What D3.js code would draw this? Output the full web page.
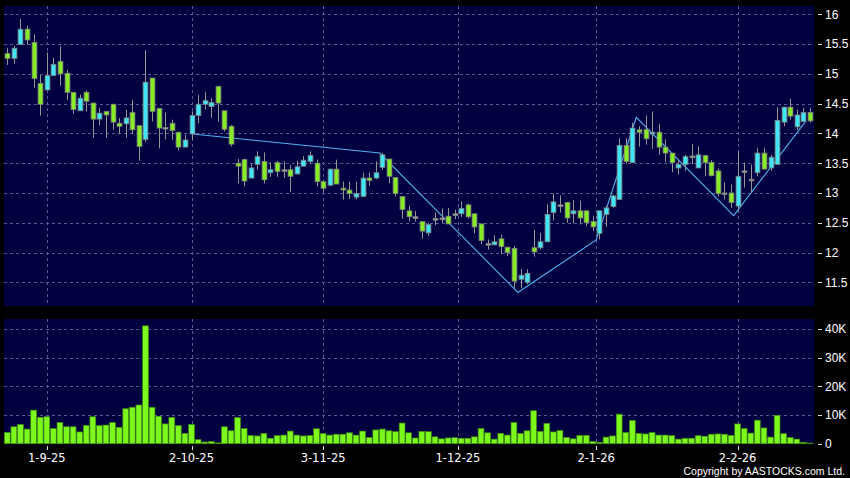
<!DOCTYPE html>
<html>
<head>
<meta charset="utf-8">
<script src="https://cdn.jsdelivr.net/npm/d3@7"></script>
<style>
  html, body { margin: 0; padding: 0; background: #000; }
  svg { display: block; }
</style>
</head>
<body>
<div id="chart"></div>
<script>
// daily candles, oldest first
const opens = [15.34,15.26,15.49,15.75,15.53,14.84,14.73,14.97,15.21,15.01,14.69,14.38,14.69,14.51,14.24,14.37,14.49,14.17,14.16,14.35,
  14.13,13.90,14.93,14.42,14.10,14.17,14.02,13.77,13.99,14.30,14.49,14.45,14.79,14.38,14.12,13.50,13.56,13.25,13.48,13.53,
  13.34,13.51,13.39,13.39,13.32,13.45,13.53,13.50,13.19,13.13,13.40,13.08,13.05,12.93,12.94,13.25,13.25,13.43,13.57,13.26,
  12.94,12.70,12.60,12.52,12.33,12.57,12.58,12.61,12.65,12.65,12.80,12.65,12.48,12.15,12.13,12.23,12.09,12.07,11.55,11.50,
  12.08,12.08,12.18,12.67,12.80,12.84,12.65,12.70,12.70,12.52,12.32,12.64,12.77,12.89,13.80,13.51,14.06,14.07,13.99,14.02,
  13.77,13.67,13.42,13.48,13.62,13.42,13.63,13.51,13.37,13.00,13.00,12.78,13.37,13.23,13.34,13.67,13.42,13.48,14.19,14.44,
  14.11,14.20,14.35];
const highs = [15.43,15.47,15.92,15.81,15.66,14.98,15.36,15.27,15.46,15.07,14.69,14.65,14.72,14.51,14.43,14.37,14.49,14.26,14.40,14.56,
  14.13,15.40,14.93,14.42,14.35,14.23,14.02,13.98,14.37,14.65,14.70,14.59,14.79,14.38,14.14,13.57,13.58,13.50,13.70,13.68,
  13.51,13.54,13.53,13.47,13.54,13.62,13.70,13.56,13.22,13.41,13.56,13.19,13.19,13.19,13.34,13.34,13.53,13.67,13.57,13.26,
  12.94,12.79,12.70,12.52,12.50,12.67,12.74,12.75,12.72,12.86,12.82,12.65,12.48,12.22,12.29,12.30,12.09,12.11,11.72,11.72,
  12.38,12.33,12.81,12.99,12.96,12.84,12.88,12.87,12.70,12.61,12.70,12.79,12.97,13.92,13.92,14.18,14.12,14.30,14.37,14.16,
  13.90,13.67,13.56,13.64,13.82,13.78,13.63,13.55,13.41,13.18,13.14,13.70,13.51,13.48,13.76,13.76,13.64,14.44,14.45,14.58,
  14.40,14.43,14.43];
const lows = [15.15,15.17,15.49,15.49,14.77,14.30,14.73,14.97,14.80,14.56,14.33,14.38,14.37,13.93,14.14,13.93,14.06,13.99,13.93,13.99,
  13.54,13.86,14.20,13.75,13.90,13.89,13.72,13.77,13.89,14.17,14.40,14.26,14.20,14.03,13.78,13.16,13.11,13.25,13.39,13.16,
  13.27,13.27,13.25,13.02,13.31,13.45,13.49,13.11,13.02,13.12,13.15,12.89,12.90,12.89,12.94,13.12,13.23,13.39,13.16,12.94,
  12.57,12.53,12.52,12.23,12.28,12.46,12.50,12.48,12.56,12.60,12.57,12.32,12.14,12.05,12.12,11.97,11.94,11.40,11.40,11.47,
  11.93,12.05,12.18,12.54,12.67,12.50,12.49,12.47,12.44,12.36,12.22,12.43,12.75,12.89,13.49,13.51,13.78,13.81,13.74,13.64,
  13.52,13.35,13.31,13.37,13.48,13.42,13.28,13.28,12.94,12.89,12.75,12.70,13.09,13.00,13.28,13.40,13.37,13.48,14.12,14.23,
  14.06,14.20,14.18];
const closes = [15.26,15.43,15.75,15.57,14.92,14.49,14.97,15.16,15.00,14.69,14.40,14.59,14.54,14.24,14.34,14.31,14.19,14.12,14.26,14.06,
  13.78,14.86,14.37,14.09,14.10,14.05,13.77,13.89,14.30,14.49,14.55,14.52,14.51,14.07,13.82,13.45,13.20,13.42,13.61,13.22,
  13.39,13.36,13.39,13.28,13.44,13.55,13.63,13.19,13.08,13.40,13.15,13.05,12.99,12.99,13.25,13.21,13.34,13.64,13.28,12.99,
  12.72,12.60,12.60,12.36,12.47,12.57,12.58,12.48,12.65,12.74,12.60,12.43,12.20,12.15,12.18,12.10,12.00,11.52,11.62,11.65,
  12.01,12.18,12.64,12.85,12.80,12.58,12.70,12.58,12.50,12.43,12.70,12.75,12.95,13.80,13.53,14.09,14.02,13.91,14.02,13.77,
  13.67,13.51,13.48,13.61,13.62,13.64,13.51,13.29,12.99,13.00,12.84,13.28,13.37,13.23,13.67,13.40,13.60,14.22,14.44,14.29,
  14.31,14.35,14.21];
// volume in thousands of shares
const volumes = [3.9,5.9,6.7,5.1,11.7,9.2,9.4,5.3,7.4,5.9,5.9,4.1,6.4,9.4,6.3,6.5,7.4,5.7,12.2,12.7,
  13.5,41.1,12.7,9.6,6.9,9.2,6.3,3.6,6.7,1.4,0.6,0.8,0.3,5.9,4.5,9.1,5.3,2.9,2.7,3.6,
  1.9,2.8,3.0,4.4,3.0,2.7,2.9,5.2,3.6,3.0,3.3,3.3,3.8,3.0,4.4,2.2,4.8,5.1,4.5,4.2,
  7.2,3.8,2.0,4.3,4.2,2.4,1.7,2.0,2.1,1.9,1.9,2.4,5.3,3.8,1.6,3.6,3.0,7.4,3.6,4.5,
  11.5,4.3,7.1,4.1,4.6,2.2,1.7,2.9,2.9,0.8,0.5,2.3,2.7,10.3,3.9,8.1,3.6,3.4,3.9,3.0,
  3.0,2.8,1.6,1.9,1.9,2.8,2.6,3.3,3.4,3.3,2.9,6.9,5.3,3.7,8.2,5.5,2.3,9.9,3.5,2.2,
  1.6,0.5,0.2];

// date axis: label and the bar it sits on
const tickLabels = ["1-9-25", "2-10-25", "3-11-25", "1-12-25", "2-1-26", "2-2-26"];
const tickBars = [6, 28, 48, 68.5, 89.5, 111];
const priceTicks = [11.5, 12, 12.5, 13, 13.5, 14, 14.5, 15, 15.5, 16];
const volumeTicks = [0, 10, 20, 30, 40];

// zig-zag overlay (bar position, price)
const zigzagBars = [28.2, 56.6, 77.6, 89.5, 95.6, 110.4, 121.4];
const zigzagPrices = [13.99, 13.67, 11.33, 12.21, 14.27, 12.62, 14.21];

const W = 850, H = 478;
const panel = { left: 4, right: 814 };
const pricePanel = { top: 6, bottom: 306 };
const volPanel = { top: 319, bottom: 444 };

const candles = opens.map((o, i) => ({ i, o, h: highs[i], l: lows[i], c: closes[i], v: volumes[i] }));

const x = d3.scaleLinear().domain([0, candles.length - 1]).range([7.3, 810]);
const y = d3.scaleLinear().domain([11.5, 16]).range([282.3, 14.3]);
const yv = d3.scaleLinear().domain([0, 40]).range([443.7, 329]);

const bodyW = 4.8;
const upColor = '#40e6f6', downColor = '#86ec24', flatColor = '#a8a8a8';
const gridColor = '#5a5a96';

const svg = d3.select('#chart').append('svg')
  .attr('width', W)
  .attr('height', H)
  .style('background', '#000');

// panels
[pricePanel, volPanel].forEach(p => {
  svg.append('rect')
    .attr('x', panel.left)
    .attr('y', p.top)
    .attr('width', panel.right - panel.left)
    .attr('height', p.bottom - p.top)
    .attr('fill', '#000040');
});

// grid
const grid = svg.append('g')
  .attr('stroke', gridColor)
  .attr('stroke-width', 1)
  .attr('stroke-dasharray', '3,3');

grid.selectAll('.hp')
  .data(priceTicks)
  .enter().append('line')
    .attr('x1', panel.left).attr('x2', panel.right)
    .attr('y1', d => Math.round(y(d)) + 0.5)
    .attr('y2', d => Math.round(y(d)) + 0.5);

grid.selectAll('.hv')
  .data(volumeTicks.filter(d => d > 0))
  .enter().append('line')
    .attr('x1', panel.left).attr('x2', panel.right)
    .attr('y1', d => Math.round(yv(d)) + 0.5)
    .attr('y2', d => Math.round(yv(d)) + 0.5);

[pricePanel, volPanel].forEach(p => {
  grid.append('g').selectAll('line')
    .data(tickBars)
    .enter().append('line')
      .attr('x1', d => Math.round(x(d)) + 0.5)
      .attr('x2', d => Math.round(x(d)) + 0.5)
      .attr('y1', p.top)
      .attr('y2', p.bottom);
});

// zig-zag line sits behind the candles
const zz = zigzagBars.map((b, k) => [x(b), y(zigzagPrices[k])]);
svg.append('path')
  .attr('d', d3.line()(zz))
  .attr('fill', 'none')
  .attr('stroke', '#4fb2ee')
  .attr('stroke-width', 1.1);

// candles
const cg = svg.append('g');
cg.selectAll('.wick')
  .data(candles)
  .enter().append('line')
    .attr('x1', d => Math.round(x(d.i)) + 0.5)
    .attr('x2', d => Math.round(x(d.i)) + 0.5)
    .attr('y1', d => y(d.h))
    .attr('y2', d => y(d.l))
    .attr('stroke', '#969696')
    .attr('stroke-width', 1);

cg.selectAll('.body')
  .data(candles)
  .enter().append('rect')
    .attr('x', d => Math.round(x(d.i)) + 0.5 - bodyW / 2)
    .attr('width', bodyW)
    .attr('y', d => y(Math.max(d.o, d.c)))
    .attr('height', d => Math.max(1.6, Math.abs(y(d.o) - y(d.c))))
    .attr('fill', d => d.c > d.o ? upColor : (d.c < d.o ? downColor : flatColor))
    .attr('stroke', '#808080')
    .attr('stroke-width', 0.8);

// volume bars
svg.append('g').selectAll('rect')
  .data(candles)
  .enter().append('rect')
    .attr('x', d => x(d.i) - 2.9)
    .attr('width', 5.8)
    .attr('y', d => yv(d.v))
    .attr('height', d => yv(0) - yv(d.v))
    .attr('fill', '#7cf81c')
    .attr('stroke', '#3f8c12')
    .attr('stroke-width', 0.7);

// right axis labels
const axisFont = 'Liberation Sans, Arial, sans-serif';
const fmtPrice = d => (d % 1 === 0 ? d3.format('d')(d) : d3.format('.1f')(d));

const ra = svg.append('g');
ra.selectAll('.pt')
  .data(priceTicks)
  .enter().append('line')
    .attr('x1', 818).attr('x2', 822)
    .attr('y1', d => Math.round(y(d)) + 0.5)
    .attr('y2', d => Math.round(y(d)) + 0.5)
    .attr('stroke', '#ddd');
ra.selectAll('.pl')
  .data(priceTicks)
  .enter().append('text')
    .attr('x', 825)
    .attr('y', d => y(d))
    .attr('dy', '0.36em')
    .attr('fill', '#fff')
    .attr('font-family', axisFont)
    .attr('font-size', '12px')
    .text(fmtPrice);

ra.selectAll('.vt')
  .data(volumeTicks)
  .enter().append('line')
    .attr('x1', 818).attr('x2', 822)
    .attr('y1', d => Math.round(yv(d)) + 0.5)
    .attr('y2', d => Math.round(yv(d)) + 0.5)
    .attr('stroke', '#ddd');
ra.selectAll('.vl')
  .data(volumeTicks)
  .enter().append('text')
    .attr('x', 825)
    .attr('y', d => yv(d))
    .attr('dy', '0.36em')
    .attr('fill', '#fff')
    .attr('font-family', axisFont)
    .attr('font-size', '12px')
    .text(d => d === 0 ? '0' : d + 'K');

// date axis
const xa = svg.append('g');
xa.selectAll('line')
  .data(tickBars)
  .enter().append('line')
    .attr('x1', d => Math.round(x(d)) + 0.5)
    .attr('x2', d => Math.round(x(d)) + 0.5)
    .attr('y1', 446).attr('y2', 450)
    .attr('stroke', '#ddd');
xa.selectAll('text')
  .data(tickBars)
  .enter().append('text')
    .attr('x', d => x(d))
    .attr('y', 462)
    .attr('text-anchor', 'middle')
    .attr('fill', '#fff')
    .attr('font-family', 'DejaVu Sans, Verdana, sans-serif')
    .attr('font-size', '11.5px')
    .text((d, k) => tickLabels[k]);

svg.append('text')
  .attr('x', 845)
  .attr('y', 475)
  .attr('text-anchor', 'end')
  .attr('fill', '#fff')
  .attr('font-family', axisFont)
  .attr('font-size', '10.5px')
  .text('Copyright by AASTOCKS.com Ltd.');
</script>
</body>
</html>
